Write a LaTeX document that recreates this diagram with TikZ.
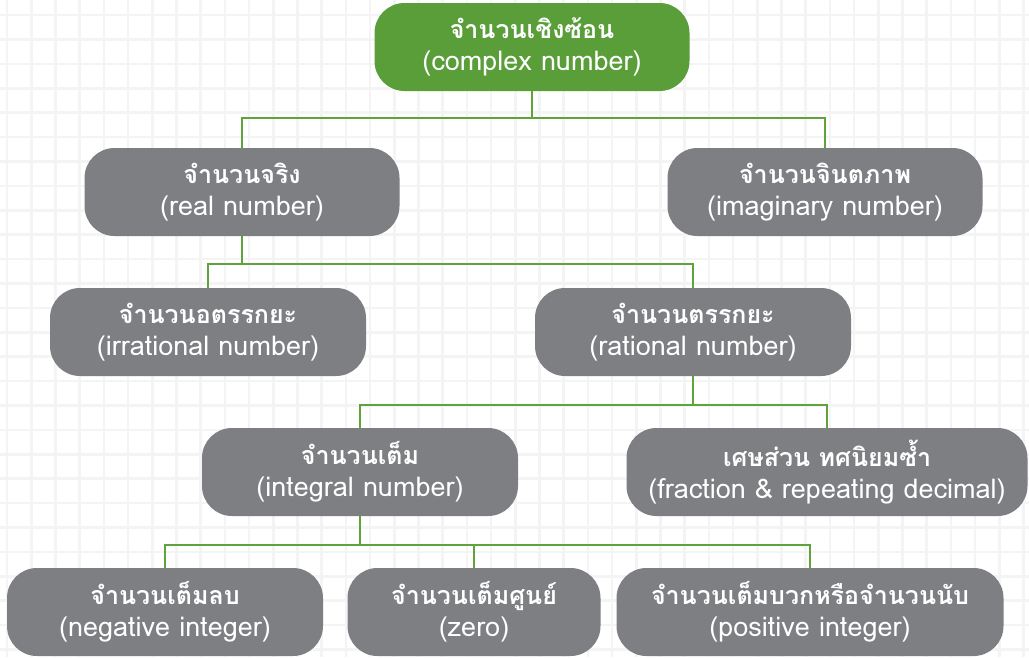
\documentclass[tikz,border=0pt]{standalone}
\usepackage{fontspec}
\newfontfamily\thaifont[Script=Thai]{Loma}
\definecolor{nodegreen}{HTML}{5A9E3A}
\definecolor{nodegray}{HTML}{7E7F83}
\definecolor{linegreen}{HTML}{5EA33C}
\definecolor{gridc}{HTML}{F4F4F4}
\tikzset{
  box/.style={draw=none, fill=nodegray, rounded corners=30pt, minimum height=88pt, text=white, align=center, inner sep=0pt, font=\thaifont\fontsize{25}{32}\selectfont},
  topbox/.style={box, fill=nodegreen},
  conn/.style={draw=linegreen, line width=2.2pt},
  gridline/.style={draw=gridc, line width=2.6pt}
}
\newcommand{\lbl}[2]{{\bfseries #1}\\{\fontsize{27}{32}\selectfont #2}}
\begin{document}
\begin{tikzpicture}[x=1pt,y=-1pt]
\useasboundingbox (0,0) rectangle (1029,657);
\fill[white] (0,0) rectangle (1029,657);
\foreach \i in {0,...,42} {\draw[gridline] ({7+24.2*\i},0) -- ({7+24.2*\i},657);}
\foreach \j in {0,...,27} {\draw[gridline] (0,{15+24.4*\j}) -- (1029,{15+24.4*\j});}

\node[topbox, minimum width=315pt] (complex) at (532,47) {\lbl{จำนวนเชิงซ้อน}{(complex number)}};
\node[box, minimum width=315pt] (real) at (242,192) {\lbl{จำนวนจริง}{(real number)}};
\node[box, minimum width=315pt] (imag) at (825,192) {\lbl{จำนวนจินตภาพ}{(imaginary number)}};
\node[box, minimum width=316pt] (irr) at (208,332) {\lbl{จำนวนอตรรกยะ}{(irrational number)}};
\node[box, minimum width=316pt] (rat) at (693,332) {\lbl{จำนวนตรรกยะ}{(rational number)}};
\node[box, minimum width=316pt] (int) at (360,472) {\lbl{จำนวนเต็ม}{(integral number)}};
\node[box, minimum width=401pt] (frac) at (827,472) {\lbl{เศษส่วน ทศนิยมซ้ำ}{(fraction \& repeating decimal)}};
\node[box, minimum width=316pt] (neg) at (165,612) {\lbl{จำนวนเต็มลบ}{(negative integer)}};
\node[box, minimum width=253pt] (zero) at (474,612) {\lbl{จำนวนเต็มศูนย์}{(zero)}};
\node[box, minimum width=387pt] (pos) at (810,612) {\lbl{จำนวนเต็มบวกหรือจำนวนนับ}{(positive integer)}};

\coordinate (j1) at (532,118);
\coordinate (j2) at (242,264);
\coordinate (j3) at (693,405);
\coordinate (j4) at (360,545);

\draw[conn] (complex.south) -- (j1);
\draw[conn] (j1) -| (real.north);
\draw[conn] (j1) -| (imag.north);
\draw[conn] (real.south) -- (j2);
\draw[conn] (j2) -| (irr.north);
\draw[conn] (j2) -| (rat.north);
\draw[conn] (rat.south) -- (j3);
\draw[conn] (j3) -| (int.north);
\draw[conn] (j3) -| (frac.north);
\draw[conn] (int.south) -- (j4);
\draw[conn] (j4) -| (neg.north);
\draw[conn] (j4) -| (zero.north);
\draw[conn] (j4) -| (pos.north);
\end{tikzpicture}
\end{document}
